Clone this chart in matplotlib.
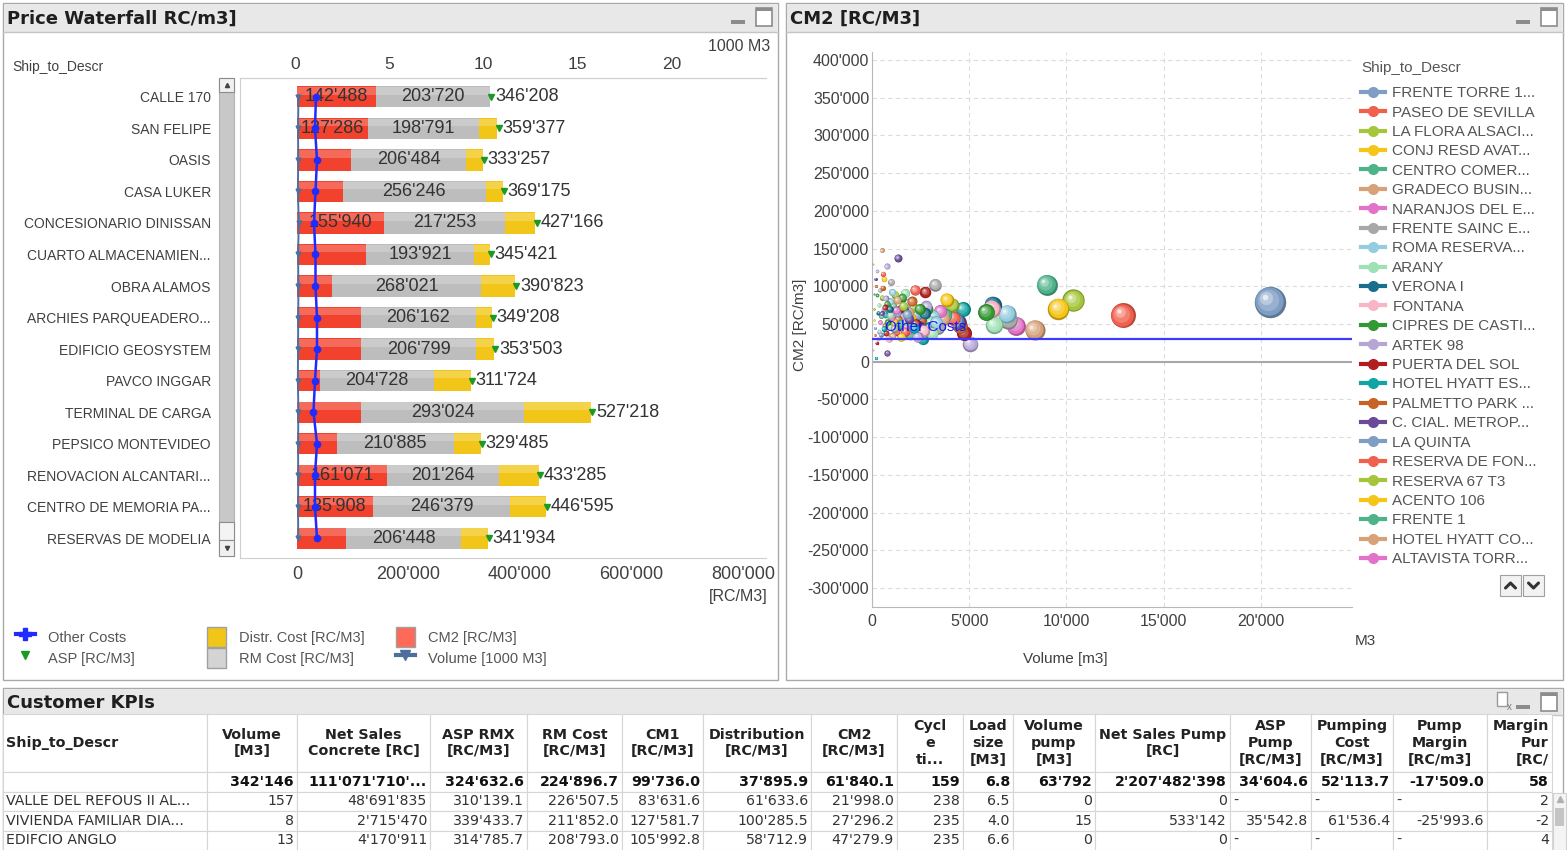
import numpy as np
import matplotlib
matplotlib.use("Agg")
import matplotlib.pyplot as plt
import matplotlib.colors as mcolors
import matplotlib.transforms as mtransforms
from matplotlib.patches import Rectangle, Patch
from matplotlib.lines import Line2D
from matplotlib.table import Table
from matplotlib.ticker import FuncFormatter

plt.rcParams['font.family'] = ['Liberation Sans', 'DejaVu Sans']

W, H = 1567, 850

# ---------------- waterfall data (RC/M3) ----------------
ship_to = ["CALLE 170", "SAN FELIPE", "OASIS", "CASA LUKER", "CONCESIONARIO DINISSAN",
           "CUARTO ALMACENAMIEN...", "OBRA ALAMOS", "ARCHIES PARQUEADERO...",
           "EDIFICIO GEOSYSTEM", "PAVCO INGGAR", "TERMINAL DE CARGA", "PEPSICO MONTEVIDEO",
           "RENOVACION ALCANTARI...", "CENTRO DE MEMORIA PA...", "RESERVAS DE MODELIA"]
cm2 = np.array([142488, 127286, 97000, 82500, 155940, 123800, 62800, 114800,
                114800, 41300, 114800, 70900, 161071, 135908, 87900])
rm_cost = np.array([203720, 198791, 206484, 256246, 217253, 193921, 268021, 206162,
                    206799, 204728, 293024, 210885, 201264, 246379, 206448])
asp = np.array([346208, 359377, 333257, 369175, 427166, 345421, 390823, 349208,
                353503, 311724, 527218, 329485, 433285, 446595, 341934])
other_costs = np.array([34000, 32300, 35900, 33200, 30500, 33200, 33200, 35900,
                        35900, 32300, 29600, 35900, 32300, 32300, 35900])
volume_k = np.array([0.18, 0.16, 0.17, 0.15, 0.20, 0.16, 0.18, 0.17,
                     0.16, 0.15, 0.18, 0.16, 0.17, 0.16, 0.17])
distr_cost = asp - cm2 - rm_cost

# ---------------- bubble data ----------------
legend_names = ["FRENTE TORRE 1...", "PASEO DE SEVILLA", "LA FLORA ALSACI...", "CONJ RESD AVAT...",
                "CENTRO COMER...", "GRADECO BUSIN...", "NARANJOS DEL E...", "FRENTE SAINC E...",
                "ROMA RESERVA...", "ARANY", "VERONA I", "FONTANA", "CIPRES DE CASTI...",
                "ARTEK 98", "PUERTA DEL SOL", "HOTEL HYATT ES...", "PALMETTO PARK ...",
                "C. CIAL. METROP...", "LA QUINTA", "RESERVA DE FON...", "RESERVA 67 T3",
                "ACENTO 106", "FRENTE 1", "HOTEL HYATT CO...", "ALTAVISTA TORR..."]
bub_volume = [20460, 12890, 10350, 9580, 8980, 8365, 7400, 7010, 6925, 6270, 6205, 6150, 5860,
              5040, 4730, 4660, 4520, 4450, 4300, 4165, 4100, 3840, 3750, 3650, 3500,
              3240, 3150, 3050, 2950, 2900, 2850, 2800, 2750, 2600, 2500, 2400, 2300, 2200,
              2100, 2000, 1950, 1900, 1850, 1800, 1750, 1700, 1650, 1600, 1550, 1500, 1450,
              1400, 1350, 1330, 1300, 1250, 1200, 1150, 1100, 1050, 1000, 980, 950, 900, 860,
              820, 780, 755, 720, 690, 660, 787, 600, 560, 530, 634, 480, 500, 420, 400, 380,
              350, 330, 300, 280, 260, 240, 220, 200, 180, 160, 140, 120, 100, 80, 60, 50,
              3400, 3300, 3100, 2700, 2650, 2450, 2350, 2250, 2150, 2050, 1900, 1800, 1700,
              1600, 1500, 1450, 1300, 1250, 1150, 1050, 950, 900, 850, 800, 700, 650, 600,
              550, 500, 450]
bub_cm2 = [79200, 61400, 81300, 69900, 102100, 42400, 47700, 55700, 63700, 49000, 75600, 70000,
           65900, 23900, 38000, 69900, 47000, 52000, 55000, 58000, 75600, 82200, 62000, 57000,
           66700, 102100, 60000, 52000, 45000, 38000, 70000, 73300, 92400, 30000, 55000, 48000,
           62000, 95000, 72000, 58000, 36000, 66000, 42000, 78000, 52000, 91000, 68000, 45000,
           85000, 60000, 70000, 48000, 56000, 137500, 64000, 40000, 88900, 52000, 74000, 34000,
           58000, 105700, 80000, 46000, 66000, 54000, 77000, 126400, 38000, 62000, 48000, 11500,
           70000, 116700, 85000, 109700, 60000, 147600, 52000, 95000, 40000, 75000, 65000, 30000,
           88000, 120000, 25000, 5000, 100000, 110000, 45000, 35000, 70000, 55000, 90000,
           130000, 15000,
           45000, 52000, 38000, 64000, 41000, 70000, 33000, 50000, 45000, 80000, 57000, 63000,
           40000, 74000, 33000, 50000, 82000, 68000, 44000, 92000, 62000, 70000, 30000, 52000,
           84000, 72000, 44000, 98000, 64000, 36000]
other_cost_line = 30500

palette = ['#7f9ec4', '#f0604d', '#a5c63b', '#f5c518', '#4fb38a', '#d7a27a', '#e373c8',
           '#a8a8a8', '#93cddf', '#9fe0b4', '#1a6f8c', '#f8b5c4', '#339933', '#b5a6d6',
           '#b01e1e', '#10a4a4', '#c86328', '#6b4a98']

# ---------------- table data ----------------
kpi_header = ["Ship_to_Descr", "Volume\n[M3]", "Net Sales\nConcrete [RC]", "ASP RMX\n[RC/M3]",
              "RM Cost\n[RC/M3]", "CM1\n[RC/M3]", "Distribution\n[RC/M3]", "CM2\n[RC/M3]",
              "Cycl\ne\nti...", "Load\nsize\n[M3]", "Volume\npump\n[M3]", "Net Sales Pump\n[RC]",
              "ASP\nPump\n[RC/M3]", "Pumping\nCost\n[RC/M3]", "Pump\nMargin\n[RC/m3]",
              "Margin\nPur\n[RC/"]
kpi_formats = [None, 0, 0, 1, 1, 1, 1, 1, 0, 1, 0, 0, 1, 1, 1, None]
kpi_total = ["", 342146, "111'071'710'...", 324632.6, 224896.7, 99736.0, 37895.9, 61840.1,
             159, 6.8, 63792, 2207482398, 34604.6, 52113.7, -17509.0, "58"]
kpi_rows = [
    ["VALLE DEL REFOUS II AL...", 157, 48691835, 310139.1, 226507.5, 83631.6, 61633.6, 21998.0,
     238, 6.5, 0, 0, None, None, None, "2"],
    ["VIVIENDA FAMILIAR DIA...", 8, 2715470, 339433.7, 211852.0, 127581.7, 100285.5, 27296.2,
     235, 4.0, 15, 533142, 35542.8, 61536.4, -25993.6, "-2"],
    ["EDIFCIO ANGLO", 13, 4170911, 314785.7, 208793.0, 105992.8, 58712.9, 47279.9,
     235, 6.6, 0, 0, None, None, None, "4"],
]


def apos(v, d=0):
    return f"{v:,.{d}f}".replace(",", "'")


def rect(x0, y0, x1, y1):
    return [x0 / W, 1 - y1 / H, (x1 - x0) / W, (y1 - y0) / H]


fig = plt.figure(figsize=(W / 100, H / 100), dpi=100)

# ---------------- panel chrome (pixel coordinates) ----------------
bg = fig.add_axes([0, 0, 1, 1])
bg.set_xlim(0, W)
bg.set_ylim(H, 0)
bg.axis('off')

border = '#a9a9a9'
for (x0, y0, x1, y1, tb_h, title) in [(3, 3, 778, 680, 28, "Price Waterfall RC/m3]"),
                                      (786, 3, 1563, 680, 28, "CM2 [RC/M3]"),
                                      (3, 688, 1563, 852, 26, "Customer KPIs")]:
    bg.add_patch(Rectangle((x0, y0), x1 - x0, y1 - y0, facecolor='white', edgecolor=border, lw=1))
    bg.add_patch(Rectangle((x0 + 1, y0 + 1), x1 - x0 - 2, tb_h, facecolor='#e8e8e8',
                           edgecolor='none'))
    bg.plot([x0, x1], [y0 + tb_h + 1, y0 + tb_h + 1], color='#c4c4c4', lw=1)
    bg.text(x0 + 4, y0 + tb_h / 2 + 2, title, fontsize=13, fontweight='bold', color='#1e1e1e',
            va='center', ha='left', family='DejaVu Sans')
    # minimise / maximise icons
    bg.add_patch(Rectangle((x1 - 47, y0 + 17), 14, 4, facecolor='#8c8c8c', edgecolor='none'))
    bg.add_patch(Rectangle((x1 - 22, y0 + 5), 16, 18, facecolor='white', edgecolor='#8c8c8c', lw=1.2))
    bg.add_patch(Rectangle((x1 - 22, y0 + 5), 16, 3, facecolor='#8c8c8c', edgecolor='none'))

# table "clear" icon
bg.add_patch(Rectangle((1497, 692), 10, 14, facecolor='white', edgecolor='#9a9a9a', lw=1))
bg.text(1509, 707, "x", fontsize=7, color='#7a7a7a', ha='center', va='center')

txt = '#404040'
# left chart free texts
bg.text(12, 67, "Ship_to_Descr", fontsize=10, color=txt, va='center')
bg.text(770, 46, "1000 M3", fontsize=11.5, color=txt, va='center', ha='right')
bg.text(768, 597, "[RC/M3]", fontsize=11.5, color=txt, va='center', ha='right')
# left chart scrollbar
bg.add_patch(Rectangle((219, 78), 15, 478, facecolor='#c8c8c8', edgecolor='#b4b4b4', lw=0.8))
bg.add_patch(Rectangle((219, 78), 15, 14, facecolor='#f0f0f0', edgecolor='#8c8c8c', lw=0.8))
bg.add_patch(Rectangle((219, 522), 15, 18, facecolor='#f4f4f4', edgecolor='#8c8c8c', lw=0.8))
bg.add_patch(Rectangle((219, 540), 15, 16, facecolor='#f0f0f0', edgecolor='#8c8c8c', lw=0.8))
bg.plot([226.5], [85], marker='^', ms=3, color='#444444')
bg.plot([226.5], [548], marker='v', ms=3, color='#444444')

# right chart free texts
bg.text(800, 325, "CM2 [RC/m3]", fontsize=11, color=txt, rotation=90, ha='center', va='center')
bg.text(1065, 659, "Volume [m3]", fontsize=11, color=txt, ha='center', va='center')
bg.text(1365, 641, "M3", fontsize=11, color=txt, ha='center', va='center')
# legend scroll buttons with chevrons
for bx, d in [(1500, -1), (1523, 1)]:
    bg.add_patch(Rectangle((bx, 575), 21, 21, facecolor='#f2f2f2', edgecolor='#a0a0a0', lw=0.8))
    cx, cy = bx + 10.5, 585.5
    bg.plot([cx - 5, cx, cx + 5], [cy - 2.5 * d, cy + 2.5 * d, cy - 2.5 * d], color='#333333',
            lw=2.2, solid_capstyle='round', solid_joinstyle='round')

# table scrollbar and sort icon
bg.add_patch(Rectangle((1553, 793), 13, 60, facecolor='#f4f4f4', edgecolor='#d0d0d0', lw=0.8))
bg.plot([1559.5], [799], marker='^', ms=4, color='#b0b0b0')
bg.add_patch(Rectangle((1555, 808), 9, 18, facecolor='#c4c4c4', edgecolor='none'))
bg.text(956, 725, "/", fontsize=11, color='#c0c0c0', ha='center', va='center', family='DejaVu Sans')

# ---------------- waterfall chart ----------------
red, grey, yellow = '#f2412d', '#bdbdbd', '#f2c618'
ax1 = fig.add_axes(rect(240, 78, 766, 558))
ax1.set_facecolor('none')
rows = np.arange(len(ship_to))
bh = 0.67
ax1.barh(rows, cm2, height=bh, color=red, zorder=1)
ax1.barh(rows, rm_cost, left=cm2, height=bh, color=grey, zorder=1)
ax1.barh(rows, distr_cost, left=cm2 + rm_cost, height=bh, color=yellow, zorder=1)
# glossy highlight
ax1.barh(rows - bh * 0.28, asp, height=bh * 0.36, color='white', alpha=0.22, zorder=1.1)
ax1.plot(other_costs, rows, color='#1f2bff', lw=1.8, marker='o', ms=4.5, zorder=4)
ax1.plot(asp + 2500, rows, 'v', color='#1a9a22', ms=4, zorder=4)
for i in rows:
    ax1.text(asp[i] + 9000, i, apos(asp[i]), fontsize=13, color='#333333', va='center', ha='left')
    ax1.text(cm2[i] + rm_cost[i] / 2, i, apos(rm_cost[i]), fontsize=13, color='#333333',
             va='center', ha='center')
    if cm2[i] > 125000:
        ax1.text(cm2[i] / 2, i, apos(cm2[i]), fontsize=13, color='#333333', va='center',
                 ha='center')

ax1.set_xlim(-102200, 841200)
ax1.set_ylim(len(ship_to) - 1 + 0.63, -0.6)
ax1.set_xticks([0, 200000, 400000, 600000, 800000])
ax1.xaxis.set_major_formatter(FuncFormatter(lambda v, p: apos(v)))
ax1.set_yticks(rows)
ax1.set_yticklabels(ship_to)
ax1.tick_params(axis='y', length=0, pad=21, labelsize=10, labelcolor=txt)
ax1.tick_params(axis='x', length=0, pad=5.5, labelsize=13, labelcolor=txt)
for side in ['left', 'bottom', 'top']:
    ax1.spines[side].set_color('#cfcfcf')
ax1.spines['right'].set_visible(False)

ax1t = ax1.twiny()
ax1t.plot(volume_k, rows, color='#4e6f9c', lw=1.4, marker='v', ms=3.5, zorder=3)
ax1t.set_xlim(-2.92, 24.99)
ax1t.set_xticks([0, 5, 10, 15, 20])
ax1t.tick_params(axis='x', length=0, pad=4, labelsize=12.5, labelcolor=txt)
for side in ['left', 'bottom', 'right']:
    ax1t.spines[side].set_visible(False)
ax1t.spines['top'].set_color('#cfcfcf')

# waterfall legend (three columns)
lg_font = 10.5
col_handles = [
    ([Line2D([], [], color='#1f2bff', lw=3, marker='P', ms=8),
      Line2D([], [], ls='none', color='#1a9a22', marker='v', ms=6)],
     ["Other Costs", "ASP [RC/M3]"], 16),
    ([Patch(facecolor=yellow, edgecolor='#a0a0a0'), Patch(facecolor='#d4d4d4', edgecolor='#a0a0a0')],
     ["Distr. Cost [RC/M3]", "RM Cost [RC/M3]"], 207),
    ([Patch(facecolor='#ff6a58', edgecolor='#a0a0a0'),
      Line2D([], [], color='#4e6f9c', lw=3, marker='v', ms=7)],
     ["CM2 [RC/M3]", "Volume [1000 M3]"], 396),
]
for hds, lbs, x0 in col_handles:
    leg = fig.legend(hds, lbs, loc='upper left', bbox_to_anchor=(x0 / W, 1 - 627 / H),
                     frameon=False, fontsize=lg_font, borderpad=0, handlelength=1.3,
                     handleheight=1.75, labelspacing=0.05, handletextpad=0.9, borderaxespad=0)
    for t in leg.get_texts():
        t.set_color('#555555')

# ---------------- bubble chart ----------------
ax2 = fig.add_axes(rect(872, 52, 1352, 607))
ax2.set_facecolor('none')
ax2.grid(True, ls=(0, (4, 3)), color='#dcdcdc', lw=0.8, zorder=0)
ax2.set_axisbelow(True)
ax2.axhline(0, color='#a8a8a8', lw=1.5, zorder=1)

layers = [(1.0, -0.25, 0.0), (0.9, 0.0, 0.05), (0.68, 0.2, 0.14), (0.42, 0.45, 0.24),
          (0.18, 0.8, 0.32)]
for k, (v, m) in enumerate(zip(bub_volume, bub_cm2)):
    s = v * 0.025
    r_in = np.sqrt(s) / 2 / 72
    base = np.array(mcolors.to_rgb(palette[k % len(palette)]))
    for scale, tone, off in layers:
        c = base * (1 + tone) if tone < 0 else base + (1 - base) * tone
        tr = ax2.transData + mtransforms.ScaledTranslation(-off * r_in, off * r_in,
                                                           fig.dpi_scale_trans)
        ax2.scatter([v], [m], s=s * scale ** 2, color=c, transform=tr, linewidths=0, zorder=3)

ax2.axhline(other_cost_line, color='#3b3bff', lw=1.6, zorder=4)
ax2.text(650, other_cost_line + 6500, "Other Costs", color='#1515ff', fontsize=11,
         ha='left', va='bottom', zorder=5)

ax2.set_xlim(0, 24680)
ax2.set_ylim(-325200, 410600)
ax2.set_xticks([0, 5000, 10000, 15000, 20000])
ax2.set_yticks(np.arange(-300000, 400001, 50000))
ax2.xaxis.set_major_formatter(FuncFormatter(lambda v, p: apos(v)))
ax2.yaxis.set_major_formatter(FuncFormatter(lambda v, p: apos(v)))
ax2.tick_params(length=0, labelsize=11.5, labelcolor=txt)
ax2.tick_params(axis='x', pad=5)
ax2.tick_params(axis='y', pad=2)
for side in ['top', 'right']:
    ax2.spines[side].set_visible(False)
for side in ['left', 'bottom']:
    ax2.spines[side].set_color('#b8b8b8')

handles = [Line2D([], [], color=palette[k % len(palette)], lw=3, marker='o', ms=7)
           for k in range(len(legend_names))]
leg2 = ax2.legend(handles, legend_names, loc='upper left', bbox_to_anchor=(1361 / W, 1 - 61 / H),
                  bbox_transform=fig.transFigure, frameon=False, fontsize=11,
                  title="Ship_to_Descr", title_fontsize=11, alignment='left',
                  handlelength=1.6, handletextpad=0.45, labelspacing=0.355, borderpad=0,
                  borderaxespad=0)
leg2._legend_box.sep = 8
for t in leg2.get_texts():
    t.set_color('#555555')
leg2.get_title().set_color('#555555')

# ---------------- KPI table ----------------
ax3 = fig.add_axes(rect(3, 714, 1552, 850))
ax3.axis('off')
col_edges = [3, 207, 297, 430, 527, 622, 703, 811, 897, 963, 1013, 1095, 1230, 1311, 1393, 1487, 1552]
row_heights = [58, 19.5, 19.5, 19.5, 19.5]
col_widths = np.diff(col_edges)


def cell_text(v, fmt):
    if v is None:
        return "-", 'left'
    if isinstance(v, str):
        return v, 'right'
    return apos(v, fmt), 'right'


tbl = Table(ax3, bbox=[0, 0, 1, 1])
tbl.auto_set_font_size(False)
all_rows = [kpi_header, kpi_total] + kpi_rows
for r, row in enumerate(all_rows):
    for c, val in enumerate(row):
        if r == 0:
            s, loc = val, ('left' if c == 0 else ('right' if c == len(row) - 1 else 'center'))
        elif c == 0:
            s, loc = val, 'left'
        else:
            s, loc = cell_text(val, kpi_formats[c])
        cell = tbl.add_cell(r, c, width=col_widths[c], height=row_heights[r], text=s, loc=loc,
                            facecolor='white', edgecolor='#d6d6d6')
        cell.set_linewidth(0.8)
        cell.PAD = 3.0 / col_widths[c]
        t = cell.get_text()
        t.set_family('DejaVu Sans')
        if r == 0:
            t.set_fontsize(10.3)
            t.set_fontweight('bold')
            t.set_linespacing(1.25)
            t.set_color('#222222')
        elif r == 1:
            t.set_fontsize(10.2)
            t.set_fontweight('bold')
            t.set_color('#111111')
        else:
            t.set_fontsize(10.2)
            t.set_color('#333333')
ax3.add_table(tbl)

fig.savefig('out.png', dpi=100)
